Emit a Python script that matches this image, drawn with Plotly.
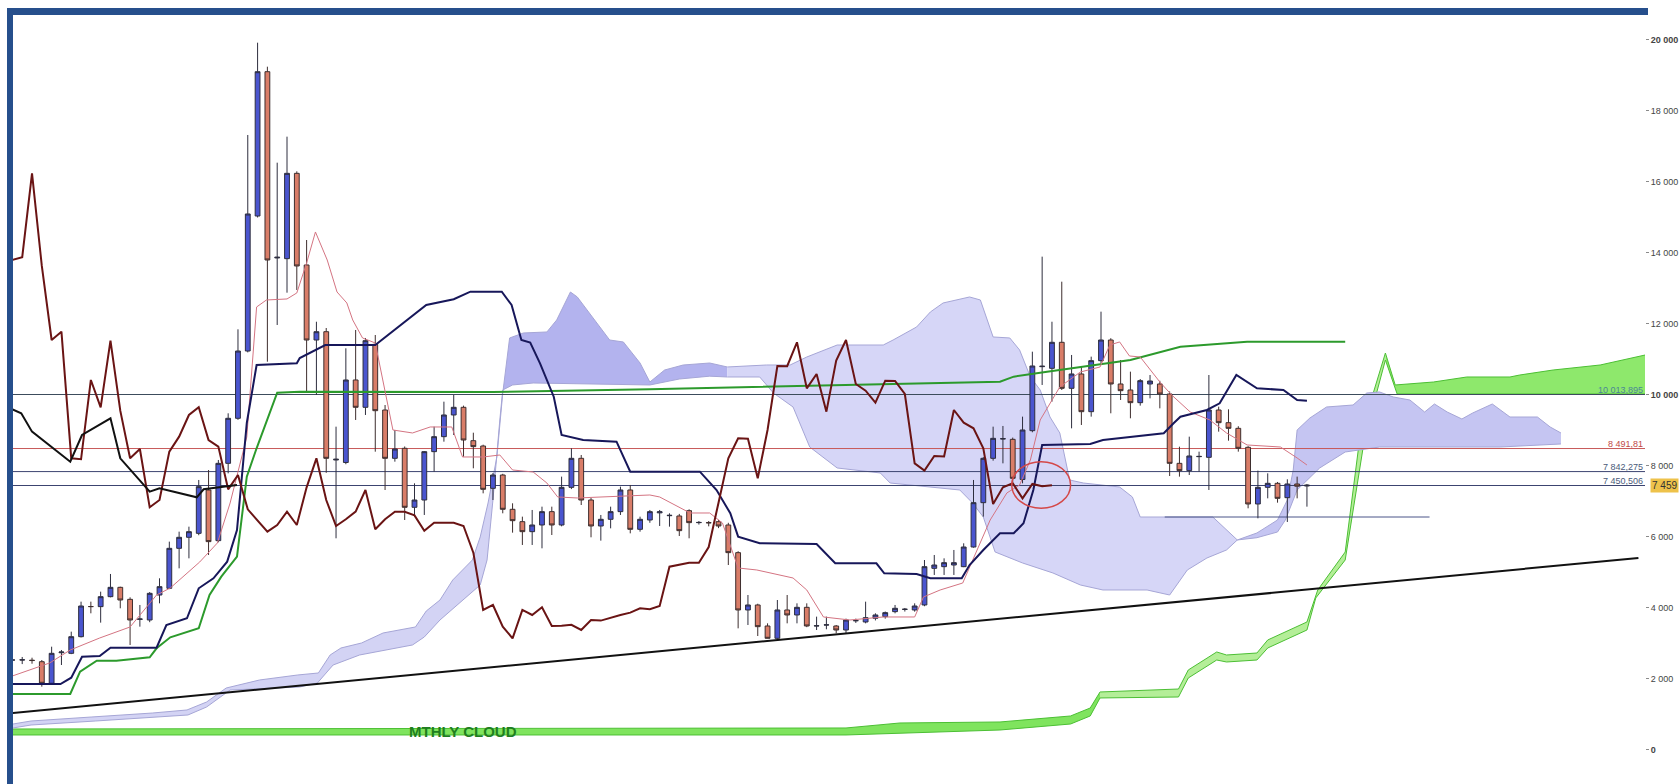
import numpy as np
import plotly.graph_objects as go

# ---------------- candles (index = bar number) ----------------
opens = [2535, 2535, 2530, 2487, 1879, 2740, 2723, 3192, 4040, 4038, 4319, 4582, 4244, 3681, 3662, 4366, 4554, 5681, 5991, 6103,
         7324, 5897, 8075, 9343, 11239, 15042, 19107, 13860, 13840, 16244, 13662, 11549, 11783, 8169, 8099, 10423, 9653, 11427, 9577, 8216,
         8498, 6836, 7042, 8404, 8826, 9437, 9653, 8713, 8563, 7371, 7746, 6780, 6432, 6150, 6338, 6714, 6338, 7399, 8216, 7042,
         6310, 6498, 6714, 7324, 6216, 6479, 6680, 6600, 6592, 6742, 6404, 6404, 6432, 6338, 5559, 3944, 4085, 3493, 3146, 3944,
         3803, 4019, 3493, 3520, 3493, 3380, 3640, 3606, 3710, 3756, 3897, 3960, 3944, 4085, 5117, 5164, 5211, 5164, 5718, 6967,
         8216, 8760, 8751, 7620, 8995, 10798, 10751, 11484, 10188, 10592, 9530, 10967, 11549, 10310, 10141, 9784, 10310, 10310, 10028, 8075,
         7869, 8263, 8244, 9577, 9220, 9061, 8526, 6930, 7399, 7512, 7108, 7493, 7436]
highs = [2600, 2620, 2600, 2535, 2910, 2817, 3333, 4178, 4178, 4460, 4958, 4600, 4300, 4085, 4450, 4836, 5869, 6150, 6291, 7606,
         7887, 8169, 9484, 11850, 17324, 19924, 19248, 16544, 17277, 16300, 14366, 12064, 11887, 9108, 11315, 11831, 11606, 11690, 9718, 9014,
         8550, 7512, 8420, 9108, 9812, 10000, 9700, 8938, 8600, 7800, 7780, 6949, 6573, 6761, 6854, 6854, 7700, 8498, 8310, 7100,
         6620, 6854, 7418, 7465, 6573, 6761, 6761, 6667, 6650, 6780, 6450, 6450, 6480, 6400, 5600, 4366, 4120, 3568, 4225, 4366,
         4131, 4131, 3756, 3756, 3520, 3700, 3700, 4178, 3850, 3900, 4085, 4000, 4131, 5352, 5493, 5399, 5634, 5822, 7606, 8250,
         9108, 9127, 8800, 9390, 11220, 13897, 12064, 13192, 11127, 10798, 11080, 12347, 11600, 10986, 10657, 10450, 10563, 10400, 10100, 8544,
         8826, 8404, 10563, 9671, 9596, 9120, 8560, 7869, 7793, 7550, 7625, 7700, 7493]
lows = [2450, 2420, 2430, 1784, 1860, 2394, 2700, 3170, 3850, 3587, 4300, 3991, 2958, 3474, 3600, 4131, 4530, 5117, 5399, 6050,
        5493, 5850, 7793, 9300, 11200, 15000, 10938, 11972, 12882, 12958, 10056, 10000, 7808, 5963, 8050, 9296, 9437, 8403, 7324, 8122,
        6479, 6573, 6620, 7840, 8685, 8873, 8263, 7935, 7230, 7042, 6667, 6122, 5775, 5775, 5681, 6056, 6300, 7350, 6901, 5991,
        5897, 6244, 6620, 6103, 6150, 6400, 6310, 6291, 6028, 5963, 6350, 6300, 6250, 5211, 3427, 3521, 3211, 3146, 3099, 3568,
        3568, 3460, 3380, 3400, 3286, 3286, 3580, 3568, 3650, 3700, 3850, 3900, 3897, 4050, 4930, 4930, 4930, 5150, 5700, 6573,
        8150, 8075, 7550, 7512, 8950, 10282, 9812, 10141, 9061, 9155, 9390, 10900, 9484, 9859, 9343, 9700, 9906, 9624, 7718, 7700,
        7746, 7840, 7324, 8967, 8713, 8404, 6808, 6526, 7089, 6967, 6423, 7089, 6854]
closes = [2535, 2540, 2520, 1879, 2723, 2760, 3192, 4056, 4040, 4319, 4582, 4225, 3662, 3690, 4413, 4601, 5681, 5991, 6150, 7418,
          5869, 8075, 9343, 11239, 15099, 19107, 13803, 13880, 16244, 13634, 11549, 11783, 8216, 8190, 10423, 9653, 11530, 9558, 8216, 8479,
          6836, 7042, 8404, 8826, 9437, 9653, 8732, 8545, 7343, 7746, 6780, 6460, 6150, 6338, 6714, 6338, 7399, 8216, 7042, 6310,
          6498, 6714, 7324, 6216, 6498, 6714, 6710, 6610, 6178, 6404, 6410, 6400, 6310, 5559, 3944, 4085, 3474, 3146, 3944, 3803,
          4019, 3493, 3500, 3525, 3380, 3662, 3645, 3728, 3803, 3869, 3991, 3965, 4056, 5164, 5211, 5277, 5277, 5718, 6967, 8216,
          8779, 8770, 7653, 9014, 10817, 10810, 11484, 10188, 10592, 9530, 10967, 11549, 10310, 10122, 9784, 10404, 10394, 10028, 8075, 7869,
          8282, 8270, 9577, 9220, 9061, 8498, 6930, 7399, 7512, 7089, 7493, 7430, 7459]
bars = list(range(len(opens)))

# ---------------- indicator lines (bar index, price) ----------------
tenkan_x = [0, 3.8, 5.9, 8.9, 12, 14.7, 16.1, 18.1, 19.1, 20.9, 22.2, 23.9, 24.9, 25.9, 28, 29, 30, 30.9, 32.1, 33.1, 34.1, 34.7,
            35.7, 37, 38, 38.8, 40.8, 42.6, 44.8, 45.9, 48, 49.7, 51, 53.1, 54.5, 55.6, 57.6, 65, 66, 69.1, 71.1, 72.4, 74, 75.9,
            79.6, 81, 82.7, 85.4, 88.8, 92, 92.9, 94.6, 96.9, 97.9, 98.9, 99.7, 101.4, 102.7, 103.8, 104.8, 106.8, 108.9, 110.9,
            111.9, 112.9, 113.9, 115, 116, 117, 118.2, 120.1, 122.1, 123.8, 125.9, 129.3, 131, 132]
tenkan_y = [2085, 2451, 2817, 3155, 3465, 4366, 4564, 5071, 5296, 5831, 6958, 8817, 12479, 12676, 12705, 12874, 13719, 14592,
            13803, 12902, 12592, 12113, 11606, 11465, 10085, 9014, 8930, 9099, 9099, 8254, 8254, 8310, 7888, 7831, 7521, 7127, 7099,
            7183, 7127, 6676, 6676, 6395, 5127, 5071, 4845, 4507, 3747, 3662, 3747, 3747, 4310, 4507, 4704, 5352, 6000, 6479, 7240,
            7465, 8169, 9296, 10226, 10648, 10789, 11409, 11494, 11099, 11071, 10705, 10367, 10001, 9521, 9296, 8930, 8592, 8535,
            8226, 8028]
kijun_x = [0, 4.9, 6, 7.1, 8.9, 10, 14.7, 15.7, 17.8, 19, 20.5, 21.9, 22.9, 23.9, 24.9, 29, 29.3, 31.9, 37, 39.2, 42.2, 45,
           46.7, 49.9, 50.9, 51.9, 52.8, 53.8, 55.2, 56, 58.2, 61.6, 63, 70.1, 71.8, 73.2, 74, 76.2, 82, 83.9, 88.1, 88.9, 92.2,
           93.6, 96.8, 97.6, 99, 100.7, 102.1, 103.1, 104.1, 105, 109.9, 111.2, 117.4, 118.4, 119.1, 121.8, 123.1, 124.8, 126.9,
           129.6, 131, 132]
kijun_y = [1859, 1859, 2037, 2628, 2648, 2882, 2882, 3521, 3710, 4555, 4837, 5305, 6197, 9212, 10846, 10893, 11042, 11408,
           11408, 11879, 12535, 12696, 12910, 12910, 12535, 11549, 11474, 10893, 9952, 8874, 8733, 8685, 7840, 7840, 7324, 6668,
           6009, 5823, 5803, 5259, 5259, 4978, 4958, 4837, 4837, 5211, 5634, 6104, 6104, 6386, 7324, 8592, 8620, 8733, 8921, 9203,
           9389, 9578, 9767, 10564, 10189, 10141, 9860, 9840]
chikou_y = [13803, 13880, 16244, 13634, 11549, 11783, 8216, 8190, 10423, 9653, 11530, 9558, 8216, 8479, 6836, 7042, 8404, 8826,
            9437, 9653, 8732, 8545, 7343, 7746, 6780, 6460, 6150, 6338, 6714, 6338, 7399, 8216, 7042, 6310, 6498, 6714, 7324,
            6216, 6498, 6714, 6710, 6610, 6178, 6404, 6410, 6400, 6310, 5559, 3944, 4085, 3474, 3146, 3944, 3803, 4019, 3493,
            3500, 3525, 3380, 3662, 3645, 3728, 3803, 3869, 3991, 3965, 4056, 5164, 5211, 5277, 5277, 5718, 6967, 8216, 8779,
            8770, 7653, 9014, 10817, 10810, 11484, 10188, 10592, 9530, 10967, 11549, 10310, 10122, 9784, 10404, 10394, 10028,
            8075, 7869, 8282, 8270, 9577, 9220, 9061, 8498, 6930, 7399, 7512, 7089, 7493, 7430, 7459]
chikou_x = list(range(len(chikou_y)))
black_x = [0, 0.9, 2, 5.9, 7.1, 10, 11, 14, 15, 18.8, 19.5, 22.9]
black_y = [9598, 9485, 8967, 8121, 8873, 9344, 8217, 7276, 7372, 7118, 7344, 7465]
green_x = [0, 5.9, 6.9, 8.6, 10.6, 14, 14.7, 16.1, 19, 20.1, 21.3, 22.9, 23.9, 24.9, 27, 29.3, 49, 65, 100.7, 102.1, 105.5,
           114, 119.1, 125.9, 135.9]
green_y = [1577, 1577, 2206, 2516, 2516, 2611, 2865, 3175, 3428, 4366, 4882, 5445, 7699, 8499, 10065, 10093, 10085, 10161,
           10375, 10517, 10657, 10986, 11361, 11502, 11502]

# ---------------- Ichimoku cloud edges ----------------
cloud_up_x = [0.06, 1.9, 8.1, 14.3, 17.8, 19.8, 21.8, 25.2, 29.1, 31.2, 32.4, 33.5, 35.6, 37.8, 41.1, 42.2, 43.6, 44.9, 46.9,
              47.7, 48.5, 49.4, 50.0, 50.7, 52.1, 54.5, 55.5, 56.9, 57.6, 59.2, 60.9, 62.3, 64, 65, 66.5, 68.4, 71.1, 72.9, 76.9,
              79.3, 81, 84.1, 88.8, 89.8, 92.2, 93.6, 94.9, 97.6, 98.7, 100, 101.7, 102.7, 103.8, 104.8, 105.8, 106.8, 107.8,
              109.2, 110.9, 112.9, 114.2, 115, 122.4, 124.2, 124.9, 126.9, 129, 130, 130.6, 131, 132.3, 134, 136.7, 138.1, 139.4,
              140.8, 142.5, 144, 145, 146.3, 147.8, 148.9, 150.9, 152.7, 155.5, 156.8, 157.9]
cloud_up_y = [732, 817, 930, 1042, 1127, 1352, 1746, 1972, 2113, 2169, 2676, 2873, 3014, 3296, 3465, 3915, 4225, 4789, 5352,
              6000, 6958, 8254, 10056, 11606, 11747, 11775, 12113, 12901, 12761, 12169, 11549, 11493, 10901, 10366, 10704, 10845,
              10901, 10789, 10845, 10845, 11070, 11408, 11408, 11549, 11916, 12338, 12592, 12761, 12676, 11634, 11606, 11268,
              10507, 10141, 9380, 8930, 7606, 7521, 7465, 7408, 7127, 6563, 6563, 6113, 5916, 6113, 6479, 7042, 7887, 9014, 9352,
              9662, 9718, 10056, 10085, 9944, 9859, 9521, 9746, 9521, 9324, 9493, 9746, 9380, 9380, 9099, 8930]
cloud_lo_x = [0.06, 1.9, 8.5, 17.9, 19.8, 21.2, 22.2, 29.3, 31.1, 32.7, 35.4, 40.8, 42, 43.6, 45.1, 46.7, 47.7, 48.4, 49, 49.7,
              50.0, 51, 53.1, 65, 68, 71.1, 72.9, 76.2, 77.6, 79.6, 81.3, 84.1, 88.5, 89.5, 96.6, 97.9, 99, 100.2, 103, 106.1,
              108.9, 111.2, 115.7, 118, 119.8, 121.8, 123.8, 124.9, 126.9, 129, 129.8, 131, 133.3, 135.9, 139.4, 151.7, 157.9]
cloud_lo_y = [620, 704, 817, 986, 1211, 1493, 1690, 1775, 1887, 2394, 2676, 2958, 3183, 3662, 4028, 4423, 4648, 5352, 7042, 9296,
              10141, 10282, 10338, 10282, 10450, 10530, 10507, 10507, 10056, 9662, 8535, 7944, 7803, 7521, 7324, 6958, 6563, 5578,
              5268, 4986, 4648, 4507, 4507, 4366, 5070, 5408, 5634, 5916, 5980, 6141, 6479, 7324, 7944, 8394, 8535, 8535, 8620]
cloud_breaks = [0.06, 50.0, 72.9, 124.9, 157.9]
cloud_fills = ["#d3d3f4", "#b3b3ee", "#d6d6f7", "#c5c5f2"]

# ---------------- monthly cloud ----------------
month_up_x = [0.06, 85, 90.5, 100.7, 107.9, 109.9, 110.9, 118.9, 119.9, 122.8, 123.8, 126.9, 128, 132, 133.1, 135.9, 137.4, 140,
              141, 144.9, 148.3, 152.7, 153.7, 157.1, 161.9, 166.5]
month_up_y = [592, 620, 761, 789, 958, 1183, 1634, 1718, 2254, 2761, 2676, 2732, 3099, 3606, 4507, 5577, 8817, 11183, 10282,
              10366, 10507, 10507, 10563, 10704, 10845, 11127]
month_lo_x = [0.06, 85, 100.7, 107.9, 109.9, 110.9, 118.9, 119.9, 122.8, 123.8, 126.9, 128, 132, 132.9, 135.9, 137.9, 140, 141.2,
              166.5]
month_lo_y = [423, 423, 563, 732, 958, 1465, 1493, 2028, 2535, 2479, 2535, 2873, 3380, 4282, 5352, 8817, 10986, 10028, 10028]
month_breaks = [0.06, 110.9, 140, 166.5]
month_fills = ["#7fe45e", "#b4ee98", "#8ee86c"]

# ---------------- levels, trend line, notes ----------------
level_values = [10013.895, 8491.81, 7842.275, 7450.506]
level_labels = ["10 013,895", "8 491,81", "7 842,275", "7 450,506"]
level_colors = ["#3c4c5c", "#c85a5a", "#3c4470", "#3c4470"]
level_text_colors = ["#4a8796", "#c04848", "#4a5a7a", "#4a5a7a"]
support_x = [117.5, 144.5]
support_y = [6563, 6563]
trend_x = [-0.04, 165.8]
trend_y = [1042, 5410]
last_price = 7459
circle_x = [101.9, 107.9]
circle_y = [6809, 8121]
cloud_note = "MTHLY CLOUD"
cloud_note_pos = [45.9, 535]
y_ticks = list(range(0, 20001, 2000))
y_ticklabels = ["<b>0</b>", "2 000", "4 000", "6 000", "8 000", "<b>10 000</b>", "12 000", "14 000", "16 000", "18 000",
                "<b>20 000</b>"]

# ---------------- figure ----------------
W, H = 1679, 784
ML, MR, MT, MB = 13, 34, 15, 0
PW, PH = W - ML - MR, H - MT - MB

fig = go.Figure()


def add_band(xs_lo, ys_lo, xs_up, ys_up, breaks, fills, edge):
    lx, ly = np.array(xs_lo), np.array(ys_lo)
    ux, uy = np.array(xs_up), np.array(ys_up)
    for k in range(len(fills)):
        a, b = breaks[k], breaks[k + 1]
        mu = (ux >= a - 1e-9) & (ux <= b + 1e-9)
        ml = (lx >= a - 1e-9) & (lx <= b + 1e-9)
        fig.add_trace(go.Scatter(x=lx[ml], y=ly[ml], mode="lines", line=dict(color=edge, width=1),
                                 hoverinfo="skip", zorder=-3))
        fig.add_trace(go.Scatter(x=ux[mu], y=uy[mu], mode="lines", line=dict(color=edge, width=1),
                                 fill="tonexty", fillcolor=fills[k], hoverinfo="skip", zorder=-3))


# monthly cloud and ichimoku cloud
add_band(month_lo_x, month_lo_y, month_up_x, month_up_y, month_breaks, month_fills, "#4cbf34")
add_band(cloud_lo_x, cloud_lo_y, cloud_up_x, cloud_up_y, cloud_breaks, cloud_fills, "#a6a6d6")

# price levels
for v, c in zip(level_values, level_colors):
    fig.add_trace(go.Scatter(x=[-1, 170], y=[v, v], mode="lines", line=dict(color=c, width=1),
                             hoverinfo="skip", zorder=-2))
fig.add_trace(go.Scatter(x=support_x, y=support_y, mode="lines", line=dict(color="#4a5488", width=1),
                         hoverinfo="skip", zorder=-2))

# candles
fig.add_trace(go.Candlestick(x=bars, open=opens, high=highs, low=lows, close=closes,
                             increasing=dict(fillcolor="#4a55cf", line=dict(color="#2e2e3e", width=1)),
                             decreasing=dict(fillcolor="#d97d68", line=dict(color="#3e2e2e", width=1)),
                             whiskerwidth=0, hoverinfo="skip", zorder=-1))

# lines
fig.add_trace(go.Scatter(x=green_x, y=green_y, mode="lines", line=dict(color="#2c9a2c", width=2), hoverinfo="skip"))
fig.add_trace(go.Scatter(x=tenkan_x, y=tenkan_y, mode="lines", line=dict(color="#d47482", width=1), hoverinfo="skip"))
fig.add_trace(go.Scatter(x=kijun_x, y=kijun_y, mode="lines", line=dict(color="#17175a", width=2), hoverinfo="skip"))
fig.add_trace(go.Scatter(x=chikou_x, y=chikou_y, mode="lines", line=dict(color="#6a1414", width=2), hoverinfo="skip"))
fig.add_trace(go.Scatter(x=black_x, y=black_y, mode="lines", line=dict(color="#111111", width=2), hoverinfo="skip"))
fig.add_trace(go.Scatter(x=trend_x, y=trend_y, mode="lines", line=dict(color="#111111", width=2), hoverinfo="skip"))

shapes = [
    dict(type="circle", xref="x", yref="y", x0=circle_x[0], x1=circle_x[1], y0=circle_y[0], y1=circle_y[1],
         line=dict(color="#d44848", width=1.5)),
    # frame
    dict(type="rect", xref="paper", yref="paper", x0=-6 / PW, x1=(1648 - ML) / PW, y0=1, y1=1 + 7 / PH,
         fillcolor="#264f8c", line=dict(width=0)),
    dict(type="rect", xref="paper", yref="paper", x0=-6 / PW, x1=0, y0=-0.01, y1=1 + 7 / PH,
         fillcolor="#264f8c", line=dict(width=0)),
]

annotations = []
for v, t, c in zip(level_values, level_labels, level_text_colors):
    annotations.append(dict(x=1 - 1 / PW, xref="paper", xanchor="right", y=v, yref="y", yanchor="bottom",
                            text=t, showarrow=False, font=dict(size=9, color=c, family="Liberation Sans, Arial"),
                            borderpad=0, yshift=-1))
annotations.append(dict(x=1 + 5 / PW, xref="paper", xanchor="left", y=last_price, yref="y", yanchor="middle",
                        text=f"{last_price // 1000} {last_price % 1000:03d}", showarrow=False, bgcolor="#eec24a",
                        font=dict(size=10, color="#333333", family="Liberation Sans, Arial"), borderpad=1))
annotations.append(dict(x=cloud_note_pos[0], y=cloud_note_pos[1], xref="x", yref="y", text=f"<b>{cloud_note}</b>",
                        showarrow=False, font=dict(size=15, color="#1f7f1f", family="Liberation Sans, Arial")))

fig.update_layout(
    width=W, height=H, margin=dict(l=ML, r=MR, t=MT, b=MB, autoexpand=False),
    paper_bgcolor="white", plot_bgcolor="white", showlegend=False,
    shapes=shapes, annotations=annotations,
    xaxis=dict(range=[0.061, 166.47], visible=False, rangeslider=dict(visible=False), fixedrange=True,
               automargin=False),
    yaxis=dict(range=[-958, 20704], side="right", tickvals=y_ticks, ticktext=y_ticklabels, showgrid=False,
               zeroline=False, showline=True, linecolor="#9a9a9a", linewidth=1, ticks="outside", ticklen=3,
               tickcolor="#8a8a8a", automargin=False,
               tickfont=dict(size=9, color="#444444", family="Liberation Sans, Arial"),
               fixedrange=True),
)

fig.write_html("out.html", config={"displayModeBar": False},
               post_script="document.body.style.margin='0';document.body.style.overflow='hidden';")
